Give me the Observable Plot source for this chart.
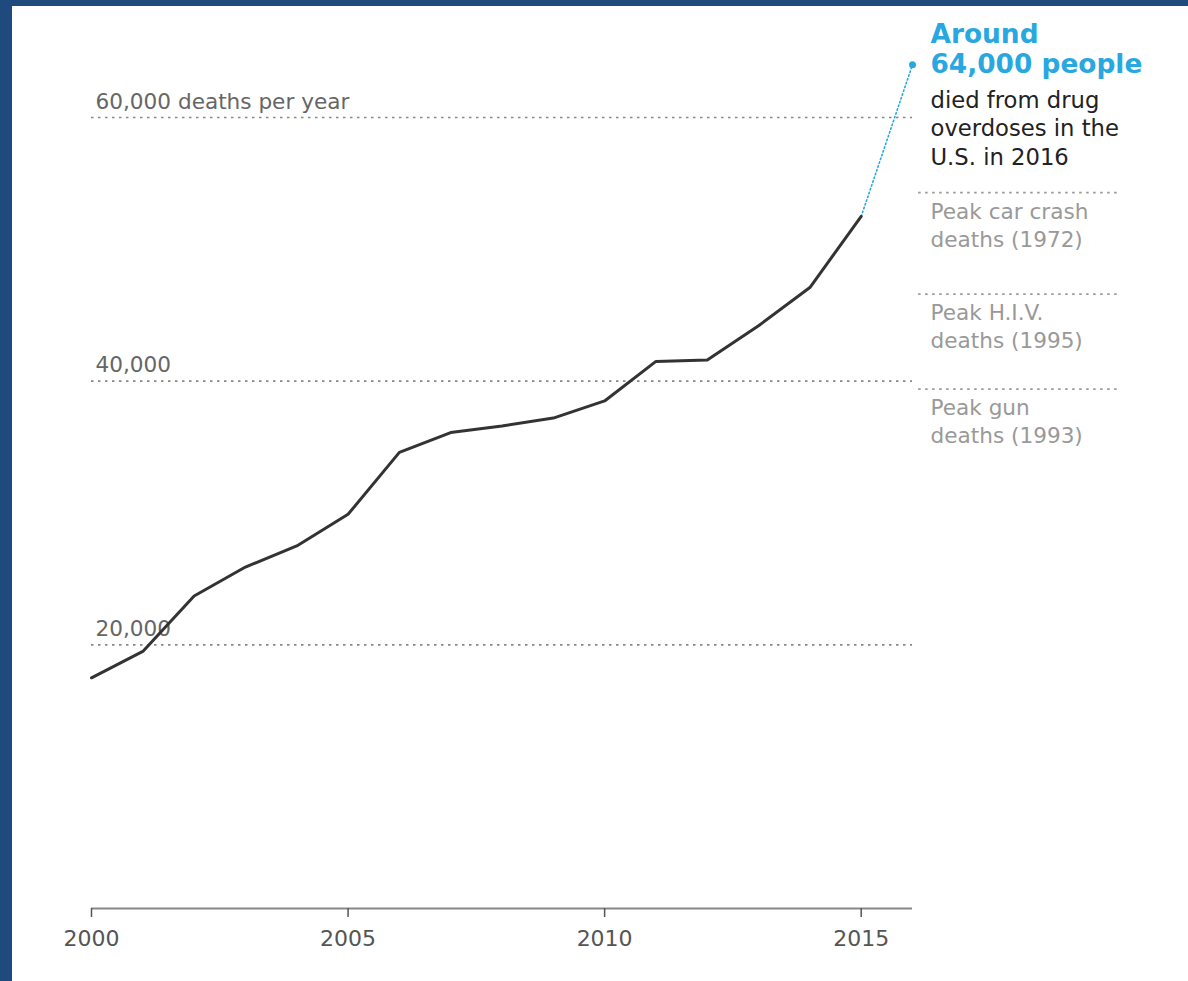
<!DOCTYPE html>
<html><head><meta charset="utf-8">
<script src="https://cdn.jsdelivr.net/npm/d3@7"></script>
<script src="https://cdn.jsdelivr.net/npm/@observablehq/plot@0.6"></script>
<style>
html,body{margin:0;padding:0;background:#1f4a7d;}
#chart{position:absolute;left:12px;top:6px;width:1176px;height:975px;background:#fff;overflow:hidden;}
</style></head><body><div id="chart"></div>
<script>
// Data
const years = [2000,2001,2002,2003,2004,2005,2006,2007,2008,2009,2010,2011,2012,2013,2014,2015];
const deaths = [17500,19500,23700,25900,27500,29900,34600,36100,36600,37200,38500,41500,41600,44200,47100,52500];
const estimateYear = 2016;
const estimateDeaths = 64000;
const gridValues = [20000, 40000, 60000];
const gridLabels = ["20,000", "40,000", "60,000 deaths per year"];
const peakValues = [54300, 46600, 39400];
const peakLabels = ["Peak car crash\ndeaths (1972)", "Peak H.I.V.\ndeaths (1995)", "Peak gun\ndeaths (1993)"];
const xTicks = [2000, 2005, 2010, 2015];
const headline = "Around\n64,000 people";
const subline = "died from drug\noverdoses in the\nU.S. in 2016";

const series = years.map((y, i) => ({year: y, deaths: deaths[i]}));
const lastObserved = series[series.length - 1];
const estimate = [{year: estimateYear, deaths: estimateDeaths}];
const projection = [lastObserved, ...estimate];

const blue = "#29a8e0";
const font = "DejaVu Sans";

const chart = Plot.plot({
  width: 1176,
  height: 975,
  marginLeft: 79,
  marginRight: 276,
  marginTop: 111,
  marginBottom: 73,
  style: {fontFamily: font, background: "transparent", overflow: "visible"},
  x: {domain: [2000, 2016], axis: null},
  y: {domain: [0, 60000], axis: null},
  marks: [
    Plot.ruleY(gridValues, {x1: 2000, x2: 2016, stroke: "#888", strokeWidth: 1.7, strokeDasharray: "2.5,4.5"}),
    Plot.text(gridValues, {x: 2000, y: d => d, text: (d, i) => gridLabels[i], textAnchor: "start", lineAnchor: "bottom", dx: 4, dy: -9, fill: "#666", fontSize: 21.6}),
    Plot.ruleY(peakValues, {x1: 2016.12, x2: 2020.03, stroke: "#999", strokeWidth: 1.6, strokeDasharray: "2.5,4.5"}),
    Plot.text(peakValues, {x: 2016, y: d => d, text: (d, i) => peakLabels[i], textAnchor: "start", lineAnchor: "bottom", lineHeight: 1.3, dx: 18, dy: 54, fill: "#999", fontSize: 21.6}),
    Plot.ruleY([0], {x1: 2000, x2: 2016, stroke: "#888", strokeWidth: 2}),
    Plot.axisX(xTicks, {tickSize: 9, tickPadding: 13, tickFormat: d => String(d), fontSize: 22, color: "#555", strokeWidth: 1.5, label: null}),
    Plot.line(projection, {x: "year", y: "deaths", stroke: blue, strokeWidth: 1.6, strokeDasharray: "1.5,2.5"}),
    Plot.line(series, {x: "year", y: "deaths", stroke: "#333", strokeWidth: 3}),
    Plot.dot(estimate, {x: "year", y: "deaths", r: 3.5, fill: blue}),
    Plot.text(estimate, {x: "year", y: "deaths", text: () => headline, textAnchor: "start", lineAnchor: "bottom", lineHeight: 30 / 26.4, dx: 18, dy: 8, fill: blue, fontSize: 26.4, fontWeight: "bold"}),
    Plot.text(estimate, {x: "year", y: "deaths", text: () => subline, textAnchor: "start", lineAnchor: "bottom", lineHeight: 28.5 / 22.7, dx: 18, dy: 100, fill: "#222", fontSize: 22.7})
  ]
});
document.getElementById("chart").appendChild(chart);
</script>
</body></html>
